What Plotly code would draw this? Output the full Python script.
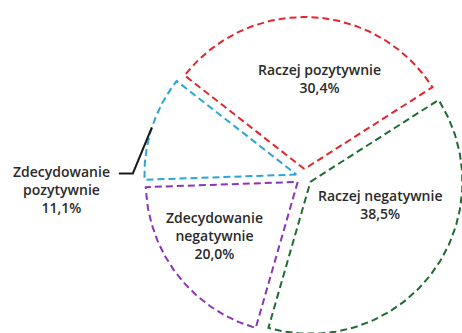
import numpy as np
import plotly.graph_objects as go

# Survey answers, clockwise from the top slice
categories = ["Raczej pozytywnie", "Raczej negatywnie", "Zdecydowanie negatywnie", "Zdecydowanie pozytywnie"]
label_lines = [["Raczej pozytywnie"], ["Raczej negatywnie"], ["Zdecydowanie", "negatywnie"], ["Zdecydowanie", "pozytywnie"]]
shares = [30.4, 38.5, 20.0, 11.1]
colors = ["#e3262d", "#1f6b32", "#8b35b8", "#2aa5d6"]

W, H = 462, 333
R_PX = 152.0            # pie radius in pixels
CX, CY = 304.0, 177.0   # pie centre in pixels (y from top)
START_DEG = 142.0       # angle where the first slice begins (counter-clockwise from +x)
EXPLODE = 8.0 / R_PX    # pull-out of every slice

fig = go.Figure()

total = float(sum(shares))
angle = START_DEG
mids = []
for name, val, col in zip(categories, shares, colors):
    sweep = 360.0 * val / total
    a0, a1 = angle, angle - sweep
    mid = np.deg2rad((a0 + a1) / 2)
    mids.append(mid)
    ox, oy = EXPLODE * np.cos(mid), EXPLODE * np.sin(mid)
    t = np.deg2rad(np.linspace(a0, a1, 120))
    xs = np.concatenate([[ox], ox + np.cos(t), [ox]])
    ys = np.concatenate([[oy], oy + np.sin(t), [oy]])
    fig.add_trace(go.Scatter(
        x=xs, y=ys, mode="lines", name=name, hoverinfo="name",
        line=dict(color=col, width=2, dash="7px,4px"),
    ))
    angle = a1


def fmt(v):
    return f"{v:.1f}".replace(".", ",") + "%"


font = dict(family="Open Sans", size=14, color="#2a2a2a", weight=600)

# label placement as (angle in degrees, distance from centre in radius units)
inside_pos = {0: (80.8, 0.657), 1: (-20.2, 0.533), 2: (-146.5, 0.703)}
for i, (pos_a, pos_r) in inside_pos.items():
    a = np.deg2rad(pos_a)
    fig.add_annotation(x=pos_r * np.cos(a), y=pos_r * np.sin(a),
                       text="<br>".join(label_lines[i] + [fmt(shares[i])]),
                       showarrow=False, font=font, align="center",
                       xanchor="center", yanchor="middle")

# outside label with a leader line for the smallest slice
i = 3
m = mids[i]
ox, oy = EXPLODE * np.cos(m), EXPLODE * np.sin(m)
p0 = (ox + np.cos(m), oy + np.sin(m))
elbow = (p0[0] - 19 / R_PX, p0[1] - 46 / R_PX)
end = (elbow[0] - 14 / R_PX, elbow[1])
fig.add_trace(go.Scatter(x=[p0[0], elbow[0], end[0]], y=[p0[1], elbow[1], end[1]],
                         mode="lines", line=dict(color="#1a1a1a", width=2),
                         hoverinfo="skip", showlegend=False))
fig.add_annotation(x=end[0] - 57 / R_PX, y=end[1] - 16 / R_PX,
                   text="<br>".join(label_lines[i] + [fmt(shares[i])]),
                   showarrow=False, font=font, align="center",
                   xanchor="center", yanchor="middle")

fig.update_xaxes(range=[-CX / R_PX, (W - CX) / R_PX], visible=False, fixedrange=True)
fig.update_yaxes(range=[-(H - CY) / R_PX, CY / R_PX], visible=False, fixedrange=True)
fig.update_layout(
    width=W, height=H, margin=dict(l=0, r=0, t=0, b=0),
    paper_bgcolor="white", plot_bgcolor="white", showlegend=False,
)
fig.write_html("out.html")
